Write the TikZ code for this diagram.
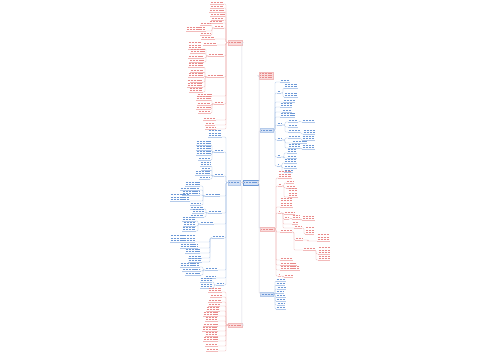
\documentclass[tikz,border=0pt]{standalone}
\usetikzlibrary{positioning}

\definecolor{redline}{RGB}{242,186,186}
\definecolor{redtext}{RGB}{232,138,138}
\definecolor{redfill}{RGB}{250,220,220}
\definecolor{blueline}{RGB}{180,202,234}
\definecolor{bluetext}{RGB}{108,152,214}
\definecolor{bluefill}{RGB}{212,225,246}
\definecolor{trunkline}{RGB}{218,218,228}

\tikzset{every picture/.style={line width=0.35pt}}
\tikzset{
  redln/.style={draw=redline,rounded corners=1pt},
  blueln/.style={draw=blueline,rounded corners=1pt},
  redtx/.style={draw=redtext,line width=.75pt,dash pattern=on 1.1pt off .35pt},
  bluetx/.style={draw=bluetext,line width=.75pt,dash pattern=on 1.1pt off .35pt},
  redul/.style={draw=redline,line width=.3pt},
  blueul/.style={draw=blueline,line width=.3pt},
  trunk/.style={draw=trunkline,line width=.5pt,rounded corners=1.5pt},
  mainbox/.style={inner sep=0pt,minimum height=4.5pt},
  mred/.style={mainbox,fill=redfill,draw=redline,minimum width=14pt},
  mblue/.style={mainbox,fill=bluefill,draw=blueline,minimum width=13pt},
  rootbox/.style={mainbox,fill=bluefill,draw=bluetext,minimum width=15pt,minimum height=5pt},
}

% text of a leaf: #1 left x, #2 right x, #3 underline y, #4 lines, #5 colour
\newcommand\leaftext[5]{%
  \foreach \j in {1,...,#4}
    \draw[#5tx] (#1+.8,#3-2.2*\j+.4) -- (#2-.8,#3-2.2*\j+.4);
  \draw[#5ul] (#1,#3) -- (#2,#3);}

% children of one parent: #1 parent point, #2 trunk x, #3 side (1 left, -1 right), #4 leaves, #5 colour
\newcommand\grp[5]{%
  \foreach \xa/\xb/\yy/\nn in {#4}{
    \draw[#5ln] (#1) -| (#2,\yy) -- ({(\xa+\xb)/2+(#3)*(\xb-\xa)/2},\yy);
    \leaftext{\xa}{\xb}{\yy}{\nn}{#5}
  }}

\begin{document}
\begin{tikzpicture}[x=1pt,y=1pt,yscale=-1]
\useasboundingbox[fill=white] (0,0) rectangle (500,360);

% main nodes
\node[rootbox] (root) at (250.5,182.5) {};
\node[mblue,minimum width=12pt] (m2) at (234,182.5) {};
\node[mred] (m1) at (235,42.5) {};
\node[mred] (m3) at (235,325) {};
\node[mred,minimum height=7pt] (hd) at (266,75.5) {};
\node[mblue] (m4) at (266.5,130) {};
\node[mred] (m5) at (267,229) {};
\node[mblue] (m6) at (267,294) {};

\draw[bluetx,shorten <=1.5pt,shorten >=1.5pt] (root.west) -- (root.east);
\foreach \m in {m2,m4,m6}
  \draw[bluetx,shorten <=1.5pt,shorten >=1.5pt] (\m.west) -- (\m.east);
\foreach \m in {m1,m3,m5}
  \draw[redtx,shorten <=1.5pt,shorten >=1.5pt] (\m.west) -- (\m.east);
\foreach \dy in {-2.2,0,2.2}
  \draw[redtx] ([xshift=1.5pt,yshift=\dy pt]hd.west) -- ([xshift=-1.5pt,yshift=\dy pt]hd.east);

% trunks
\draw[trunk] (root.west) -- (m2.east);
\draw[trunk] (root.west) -- ++(-1,0) |- (m1.east);
\draw[trunk] (root.west) -- ++(-1,0) |- (m3.east);
\draw[trunk] (root.east) -- ++(1,0) |- (hd.west);
\draw[trunk] (root.east) -- ++(1,0) |- (m4.west);
\draw[trunk] (root.east) -- ++(1,0) |- (m5.west);
\draw[trunk] (root.east) -- ++(1,0) |- (m6.west);

% left, top red branch
\grp{m1.west}{226}{1}{210/224/4/1, 210/224/8/1, 209/225/12/1, 210/225/16/1, 211/224/20/1, 209/223/23/1,
  214/224/28/1, 201/215/39/1, 203/217/45/1, 208/224/56/1, 207/224/77/1, 197/212/96/1, 214/224/104/1,
  203/216/120/1, 205/215/125/1, 205/216/129/1}{red}
\grp{214,28}{212}{1}{200/211/25/1, 186/206/31/2, 200/211/35/1}{red}
\grp{208,56}{206}{1}{188/202/49/3, 190/205/53/2, 188/204/58/1, 189/204/62/1}{red}
\grp{207,77}{205}{1}{188/204/67/2, 190/204/72/1, 188/204/77/2, 190/203/82/1, 187/203/87/3, 189/203/92/2}{red}
\grp{214,104}{212}{1}{196/211/100/2, 197/211/105/1, 196/211/109/1, 198/211/113/1}{red}

% left blue branch
\grp{m2.west}{226}{1}{208/222/137/3, 214/224/152/1, 214/224/176/1, 205/220/196/1, 208/222/213/1,
  200/214/224/1, 212/224/238/1, 205/218/270/1, 205/216/278/1, 216/224/285/1}{blue}
\grp{214,152}{212}{1}{196/211/145/2, 196/211/150/2, 196/211/155/2, 198/211/160/1}{blue}
\grp{214,176}{212}{1}{200/211/166/2, 201/211/170/1, 195/210/175/2, 199/210/179/1}{blue}
\grp{205,196}{203}{1}{185/200/186/2, 180/200/190/1, 182/200/195/2, 170/190/201/3, 190/201/205/1}{blue}
\grp{208,213}{206}{1}{190/204/209/1, 192/204/213/2, 190/204/217/1}{blue}
\grp{200,224}{198}{1}{182/196/221/2, 183/196/226/2, 182/196/231/2}{blue}
\grp{212,238}{210}{1}{170/195/242/3, 180/198/248/2, 185/200/253/2, 188/202/258/1, 188/202/262/2}{blue}
\grp{205,270}{203}{1}{180/200/267/2, 182/201/271/1, 185/201/275/1}{blue}
\grp{216,285}{214}{1}{200/212/282/2, 200/212/288/2}{blue}

% left, bottom red branch
\grp{m3.west}{226}{1}{208/222/292/2, 210/222/297/1, 208/222/302/1, 208/220/306/1, 206/220/311/2,
  203/218/316/2, 205/218/321/2, 203/218/326/1, 202/218/331/2, 205/218/336/2, 203/218/341/2,
  205/218/346/1, 206/218/351/1}{red}

% right blue branch
\grp{m4.east}{275}{-1}{280/290/82/1, 277/281/93/1, 283/295/102/1, 280/292/107/2, 282/292/112/1,
  280/295/117/2, 277/282/125/1, 277/282/140/1, 277/281/157/1, 277/280/166/1}{blue}
\grp{281,93}{283}{-1}{284/298/88/2, 284/298/97/2}{blue}
\grp{282,125}{285}{-1}{288/298/122/1, 288/298/127/1, 288/300/132/1}{blue}
\grp{298,122}{300}{-1}{302/315/122/1}{blue}
\grp{300,132}{301}{-1}{303/315/134/2}{blue}
\grp{282,140}{285}{-1}{288/300/138/1, 292/307/143/1, 288/300/148/2}{blue}
\grp{300,138}{301}{-1}{302/315/140/2}{blue}
\grp{300,148}{301}{-1}{302/315/149/2}{blue}
\grp{281,157}{284}{-1}{287/297/153/2, 287/297/158/1}{blue}
\grp{280,166}{282}{-1}{284/297/163/2, 284/297/168/1, 284/293/172/1}{blue}

% right red branch
\grp{m5.east}{276}{-1}{278/292/178/3, 278/282/186/1, 280/293/207/4, 278/281/213/1, 280/292/232/1,
  280/293/260/1, 280/297/265/1, 280/300/270/2, 278/281/276/1}{red}
\grp{282,186}{284}{-1}{286/294/183/1, 286/296/188/1, 288/298/197/4}{red}
\grp{281,213}{283}{-1}{284/295/214/1, 284/289/219/1, 292/298/224/1, 294/302/228/1}{red}
\grp{289,219}{291}{-1}{292/300/219/2}{red}
\grp{300,219}{301}{-1}{302/315/220/2}{red}
\grp{302,228}{304}{-1}{305/314/234/3}{red}
\grp{292,232}{294}{-1}{295/303/240/1, 303/315/250/1}{red}
\grp{303,240}{308}{-1}{317/330/241/3}{red}
\grp{315,250}{316}{-1}{318/330/254/3, 318/330/260/2}{red}
\grp{281,276}{283}{-1}{284/293/277/1}{red}

% right, bottom blue branch
\grp{m6.east}{275}{-1}{276/286/281/1, 276/285/285/1, 277/286/289/1, 276/284/293/1, 276/286/297/1,
  276/286/301/1, 277/285/305/1, 276/286/309/1}{blue}

\end{tikzpicture}
\end{document}
